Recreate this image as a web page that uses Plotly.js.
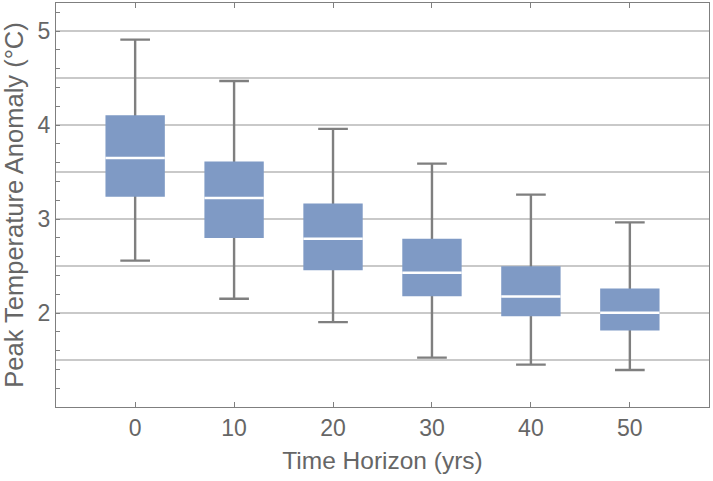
<!DOCTYPE html>
<html>
<head>
<meta charset="utf-8">
<script src="https://cdn.plot.ly/plotly-3.0.1.min.js"></script>
<style>html,body{margin:0;padding:0;background:#fff;}#chart{width:713px;height:481px;}</style>
</head>
<body>
<div id="chart"></div>
<script>
// Data
var horizons = [0, 10, 20, 30, 40, 50];
var upperWhisker = [4.91, 4.47, 3.96, 3.59, 3.26, 2.965];
var q3Values = [4.105, 3.613, 3.167, 2.792, 2.498, 2.261];
var medians = [3.649, 3.224, 2.792, 2.428, 2.176, 2.003];
var q1Values = [3.238, 2.80, 2.456, 2.18, 1.967, 1.815];
var lowerWhisker = [2.558, 2.152, 1.903, 1.525, 1.451, 1.394];
var yTickVals = [1.5, 2, 2.5, 3, 3.5, 4, 4.5, 5];
var yTickText = ['', '2', '', '3', '', '4', '', '5'];
var xTickText = ['0', '10', '20', '30', '40', '50'];

var gray = '#7f7f7f';
var textColor = '#666666';
var boxFill = 'rgb(127,154,197)';
var fontFamily = 'Liberation Sans, Arial, sans-serif';

// whiskers (collapsed box at the median, drawn underneath)
var whiskers = {
  type: 'box', x: horizons,
  q1: medians, median: medians, q3: medians,
  lowerfence: lowerWhisker, upperfence: upperWhisker,
  width: 4, whiskerwidth: 0.75,
  line: {color: gray, width: 2.4},
  fillcolor: 'rgba(0,0,0,0)',
  hoverinfo: 'skip', showlegend: false
};
// filled boxes
var boxes = {
  type: 'box', x: horizons,
  q1: q1Values, median: medians, q3: q3Values,
  lowerfence: q1Values, upperfence: q3Values,
  width: 6, whiskerwidth: 0,
  line: {color: boxFill, width: 0},
  fillcolor: boxFill,
  hoverinfo: 'skip', showlegend: false
};
// white median lines
var medianLines = {
  type: 'box', x: horizons,
  q1: medians, median: medians, q3: medians,
  lowerfence: medians, upperfence: medians,
  width: 6, whiskerwidth: 0,
  line: {color: '#ffffff', width: 2.5},
  fillcolor: 'rgba(0,0,0,0)',
  hoverinfo: 'skip', showlegend: false
};

var layout = {
  width: 713, height: 481,
  margin: {l: 56, r: 4, t: 3, b: 74},
  paper_bgcolor: '#ffffff', plot_bgcolor: '#ffffff',
  boxmode: 'overlay',
  showlegend: false,
  font: {family: fontFamily, color: textColor, size: 23},
  xaxis: {
    range: [-8, 58],
    tickmode: 'array', tickvals: horizons, ticktext: xTickText,
    ticks: 'inside', ticklen: 5, tickwidth: 1, tickcolor: gray,
    showgrid: false, zeroline: false,
    showline: true, linecolor: gray, linewidth: 1, mirror: 'ticks',
    tickfont: {size: 23, color: textColor},
    title: {text: 'Time Horizon (yrs)', font: {size: 24.5, color: textColor}, standoff: 12}
  },
  yaxis: {
    range: [1.0, 5.3],
    tickmode: 'array', tickvals: yTickVals, ticktext: yTickText,
    ticks: '', showgrid: true, gridcolor: '#c9c9c9', gridwidth: 1.6,
    minor: {dtick: 0.2, tick0: 0, ticks: 'inside', ticklen: 4, tickwidth: 1, tickcolor: gray, showgrid: false},
    zeroline: false,
    showline: true, linecolor: gray, linewidth: 1, mirror: true,
    tickfont: {size: 23, color: textColor},
    title: {text: 'Peak Temperature Anomaly (°C)', font: {size: 25.5, color: textColor}, standoff: 9}
  }
};

Plotly.newPlot('chart', [whiskers, boxes, medianLines], layout, {displayModeBar: false, staticPlot: true});
</script>
</body>
</html>
